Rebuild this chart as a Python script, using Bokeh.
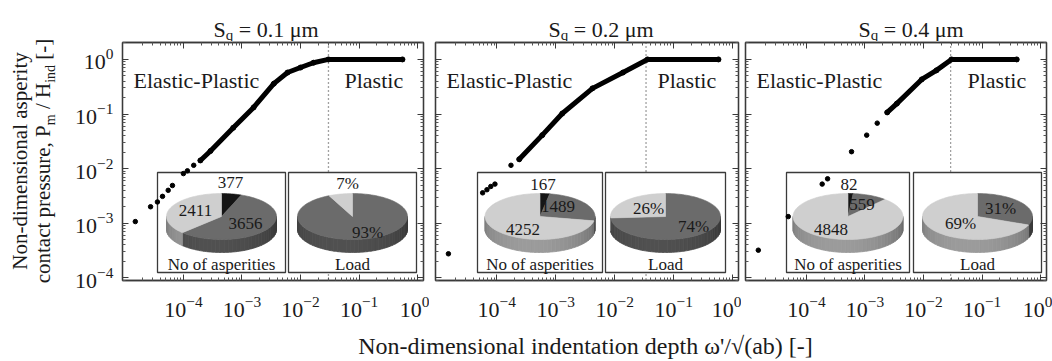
import numpy as np
from bokeh.plotting import figure
from bokeh.layouts import row, column
from bokeh.models import (Range1d, LinearScale, LogAxis, FixedTicker, Span, Label, Div,
                          CustomJSTickFormatter)
from bokeh.core.properties import value
from bokeh.embed import file_html
from bokeh.resources import INLINE

FONT = "Liberation Serif"
INK = "#1a1a1a"
FRAME = "#3a3a3a"

# ---------------- data ----------------
sq_values = ["0.1", "0.2", "0.4"]  # S_q in µm, one per panel

# isolated asperities: x = ω'/√(ab), y = Pm/Hind
sparse_x_01 = [1.51e-5, 2.75e-5, 3.6e-5, 4.4e-5, 5.5e-5, 6.5e-5, 1.0e-4, 1.17e-4, 1.5e-4]
sparse_y_01 = [1.07e-3, 2.0e-3, 2.45e-3, 3.1e-3, 4.0e-3, 4.9e-3, 8.1e-3, 9.1e-3, 1.15e-2]
dense_x_01 = [1.95e-4, 2.9e-4, 7.1e-4, 1.58e-3, 3.5e-3, 6.0e-3, 1.0e-2, 1.66e-2, 3.0e-2, 0.55]
dense_y_01 = [1.41e-2, 2.1e-2, 5.6e-2, 0.132, 0.36, 0.575, 0.71, 0.87, 1.0, 1.0]

sparse_x_02 = [1.51e-5, 5.75e-5, 6.8e-5, 7.9e-5, 9.3e-5, 1.74e-4]
sparse_y_02 = [2.75e-4, 3.6e-3, 4.1e-3, 4.7e-3, 5.2e-3, 1.15e-2]
dense_x_02 = [2.4e-4, 5.9e-4, 1.29e-3, 4.2e-3, 1.38e-2, 3.6e-2, 0.575]
dense_y_02 = [1.48e-2, 4.1e-2, 0.102, 0.295, 0.575, 1.0, 1.0]

sparse_x_04 = [1.51e-5, 4.9e-5, 1.86e-4, 2.3e-4, 5.9e-4, 1.07e-3, 1.62e-3]
sparse_y_04 = [3.2e-4, 1.32e-3, 5.2e-3, 6.5e-3, 2.04e-2, 4.1e-2, 6.8e-2]
dense_x_04 = [2.4e-3, 3.5e-3, 9.3e-3, 1.66e-2, 3.0e-2, 0.39]
dense_y_04 = [0.107, 0.155, 0.43, 0.63, 1.0, 1.0]

plastic_onset = [0.030, 0.034, 0.029]   # dotted boundary, ω'/√(ab)

# number of asperities per regime
asp_elastic = [377, 167, 82]
asp_elastic_plastic = [3656, 1489, 559]
asp_plastic = [2411, 4252, 4848]
# share of load (%)
load_elastic_plastic = [93, 74, 31]
load_plastic = [7, 26, 69]

x_ticks = [1e-4, 1e-3, 1e-2, 1e-1, 1e0]
y_ticks = [1e-4, 1e-3, 1e-2, 1e-1, 1e0]

sparse_x = [sparse_x_01, sparse_x_02, sparse_x_04]
sparse_y = [sparse_y_01, sparse_y_02, sparse_y_04]
dense_x = [dense_x_01, dense_x_02, dense_x_04]
dense_y = [dense_y_01, dense_y_02, dense_y_04]

# ---------------- layout ----------------
TOTAL_W, TOTAL_H = 1052, 361
YLAB_W = 62
MAIN_W = TOTAL_W - YLAB_W
TITLE_H = 41
FW = [301, 303, 301]
LEFT = [60, 6, 4]
RIGHT = [6, 3, 6]
TOP, FH, BOTTOM = 1, 238, 45
ROW_H = TOP + FH + BOTTOM
XLAB_H = TOTAL_H - TITLE_H - ROW_H
XR = (10 ** -5.04, 10 ** 0.10)
YR = (10 ** -4.05, 10 ** 0.31)
minor = [m * 10.0 ** k for k in range(-6, 1) for m in range(2, 10)]

C_BLACK, C_DARK, C_LIGHT = "#151515", "#6b6b6b", "#cfcfcf"

box1_x = [(35, 163), (42, 167), (41, 164)]
box2_x = [(166, 294), (170, 290), (168, 296)]
box_y = (8, 108)
title_start = [213, 548, 858]   # page x of the "S"

asp_lbl_off = [[(9, 34), (24, -7), (-26, 6)],
               [(3, 32), (18, 10), (-17, -13)],
               [(1, 32), (14, 12), (-17, -13)]]
load_lbl_off = [[(15, -16), (-5, 33)],
                [(28, -10), (-17, 8)],
                [(23, 8), (-17, -7)]]

W_TIMES = {' ': 250, ',': 250, '-': 333, '.': 250, '/': 278, '=': 564, '[': 333, ']': 333,
           "'": 333, '(': 333, ')': 333, 'μ': 500, '%': 833,
           'H': 722, 'N': 722, 'P': 556, 'S': 556,
           'a': 444, 'b': 500, 'c': 444, 'd': 500, 'e': 444, 'f': 333, 'h': 500, 'i': 278,
           'l': 278, 'm': 778, 'n': 500, 'o': 500, 'p': 500, 'q': 500, 'r': 333, 's': 389,
           't': 278, 'u': 500, 'y': 500}


def tw(s, size):
    return sum(W_TIMES.get(c, 500) for c in s) * size / 1000.0


def rich(p, pieces, x0, y0):
    """Draw text pieces (text, px size, baseline shift) one after another."""
    cum = 0.0
    for t, s, shift in pieces:
        lead = len(t) - len(t.lstrip(" "))
        cum += tw(" " * lead, s)
        t = t.strip(" ")
        p.add_layout(Label(x=x0 + cum, y=y0 + shift, text=t, text_align="left",
                           text_baseline="alphabetic", text_font=FONT,
                           text_font_size=f"{s}px", text_color=INK))
        cum += tw(t, s)


def strip(w, h):
    f = figure(width=w, height=h, x_range=Range1d(0, w), y_range=Range1d(0, h), title=None,
               toolbar_location=None, output_backend="svg", min_border=0,
               x_axis_location=None, y_axis_location=None)
    f.grid.visible = False
    f.outline_line_color = None
    return f


def hexshade(c, f):
    r, g, b = int(c[1:3], 16), int(c[3:5], 16), int(c[5:7], 16)
    return "#%02x%02x%02x" % tuple(max(0, min(255, int(v * f))) for v in (r, g, b))


def pie(p, cx, cy, vals, colors, a=55, b=23, h=13):
    tot = float(sum(vals))
    ang = np.concatenate([[0.0], np.cumsum(vals) / tot * 2 * np.pi])
    xs_s, ys_s, cs_s, xs_t, ys_t, cs_t = [], [], [], [], [], []
    for k in range(len(vals)):
        t0, t1 = ang[k], ang[k + 1]
        n = max(3, int((t1 - t0) / (2 * np.pi) * 160) + 2)
        t = np.linspace(t0, t1, n)
        xs_t.append([cx] + list(cx + a * np.sin(t)))
        ys_t.append([cy] + list(cy + b * np.cos(t)))
        cs_t.append(colors[k])
        lo, hi = max(t0, np.pi / 2), min(t1, 1.5 * np.pi)
        if hi > lo:
            m = max(2, int((hi - lo) / np.pi * 40) + 1)
            edges = np.linspace(lo, hi, m + 1)
            for j in range(m):
                u = np.linspace(edges[j], edges[j + 1], 4)
                xt, yt = cx + a * np.sin(u), cy + b * np.cos(u)
                xs_s.append(list(xt) + list(xt[::-1]))
                ys_s.append(list(yt) + list((yt - h)[::-1]))
                mid = 0.5 * (edges[j] + edges[j + 1])
                f = 0.55 + 0.2 * np.sin(mid - np.pi / 2) + 0.06 * (mid - np.pi) / (np.pi / 2)
                cs_s.append(hexshade(colors[k], f))
    p.patches(xs_s, ys_s, fill_color=cs_s, line_color=cs_s, line_width=0.8,
              x_range_name="pie", y_range_name="pie")
    p.patches(xs_t, ys_t, fill_color=cs_t, line_color=cs_t, line_width=0.6,
              x_range_name="pie", y_range_name="pie")


def style_axis(ax, labels):
    ax.axis_line_color = FRAME
    ax.axis_line_width = 1.3
    ax.major_tick_in, ax.major_tick_out = 6, 0
    ax.minor_tick_in, ax.minor_tick_out = 3, 0
    ax.major_tick_line_color = FRAME
    ax.minor_tick_line_color = "#555555"
    ax.major_label_text_font = FONT
    ax.major_label_text_font_size = "22px"
    ax.major_label_text_color = INK
    if not labels:
        ax.formatter = CustomJSTickFormatter(code="return ''")
        ax.major_label_standoff = 0


def make_panel(i):
    fw = FW[i]
    p = figure(width=LEFT[i] + fw + RIGHT[i], height=ROW_H, x_axis_type="log", y_axis_type="log",
               x_range=Range1d(*XR), y_range=Range1d(*YR), toolbar_location=None, title=None,
               output_backend="svg", min_border_left=LEFT[i], min_border_right=RIGHT[i],
               min_border_top=TOP, min_border_bottom=BOTTOM)
    p.extra_x_ranges = {"pie": Range1d(0, fw)}
    p.extra_y_ranges = {"pie": Range1d(0, FH)}
    p.extra_x_scales = {"pie": LinearScale()}
    p.extra_y_scales = {"pie": LinearScale()}
    p.grid.visible = False
    p.outline_line_color = FRAME
    p.outline_line_width = 1.3
    p.add_layout(LogAxis(), "right")
    p.add_layout(LogAxis(), "above")
    for ax in p.xaxis:
        ax.ticker = FixedTicker(ticks=x_ticks, minor_ticks=minor)
    for ax in p.yaxis:
        ax.ticker = FixedTicker(ticks=y_ticks, minor_ticks=minor)
    style_axis(p.below[0], True)
    style_axis(p.above[0], False)
    style_axis(p.right[0], False)
    style_axis(p.left[0], i == 0)
    p.below[0].major_label_standoff = 16
    p.left[0].major_label_standoff = 9

    p.add_layout(Span(location=plastic_onset[i], dimension="height", line_color="#444444",
                      line_dash="1 3", line_width=1.3, level="underlay"))

    # inset boxes
    b1, b2 = box1_x[i], box2_x[i]
    p.quad(left=[b1[0], b2[0]], right=[b1[1], b2[1]], bottom=[box_y[0]] * 2, top=[box_y[1]] * 2,
           fill_color="white", line_color=FRAME, line_width=1.3,
           x_range_name="pie", y_range_name="pie")
    cy = box_y[0] + 56
    c1, c2 = 0.5 * (b1[0] + b1[1]), 0.5 * (b2[0] + b2[1])
    asp = [asp_elastic[i], asp_elastic_plastic[i], asp_plastic[i]]
    pie(p, c1, cy, asp, [C_BLACK, C_DARK, C_LIGHT])
    ld = [load_elastic_plastic[i], load_plastic[i]]
    pie(p, c2, cy, ld, [C_DARK, C_LIGHT])
    tx = [c1 + o[0] for o in asp_lbl_off[i]] + [c2 + o[0] for o in load_lbl_off[i]] + [c1, c2]
    ty = [cy + o[1] for o in asp_lbl_off[i]] + [cy + o[1] for o in load_lbl_off[i]] + [box_y[0] + 8] * 2
    tt = [str(v) for v in asp] + [f"{v}%" for v in ld] + ["No of asperities", "Load"]
    p.text(x=tx, y=ty, text=tt, text_font=value(FONT), text_font_size="17px",
           text_align="center", text_baseline="middle", text_color=INK,
           x_range_name="pie", y_range_name="pie")

    # regime labels
    p.text(x=[11, 222], y=[200, 200], text=["Elastic-Plastic", "Plastic"], text_font=value(FONT),
           text_font_size="22px", text_align="left", text_baseline="middle", text_color=INK,
           x_range_name="pie", y_range_name="pie")

    # data
    p.line(dense_x[i], dense_y[i], line_width=5, color="black", line_cap="round", line_join="round")
    p.scatter(dense_x[i], dense_y[i], size=5, color="black")
    p.scatter(sparse_x[i], sparse_y[i], size=4.5, color="black")
    return p


panels = [make_panel(i) for i in range(3)]

# titles strip (S_q = ... µm)
pt = strip(MAIN_W, TITLE_H)
for i in range(3):
    rich(pt, [("S", 22, 0), ("q", 15, -5), (f" = {sq_values[i]} μm", 22, 0)],
         title_start[i] - YLAB_W, TITLE_H - 29)

# x-axis label strip
pl = strip(MAIN_W, XLAB_H)
pl.add_layout(Label(x=585 - YLAB_W, y=XLAB_H - 20,
                    text="Non-dimensional indentation depth ω'/√(ab) [-]",
                    text_align="center", text_baseline="middle", text_font=FONT,
                    text_font_size="24px", text_color=INK))

# y-axis label (two lines, rotated, with subscripts)
frame_mid = TITLE_H + TOP + FH / 2
box_len = 2 * (TOTAL_H - frame_mid)
sub = "font-size:14px;position:relative;top:5px;"
ylab_html = (
    f"<div style=\"width:{box_len:.0f}px;height:{YLAB_W}px;box-sizing:border-box;padding-top:9px;"
    f"transform-origin:0 0;transform:translate(0px,{TOTAL_H}px) rotate(-90deg);"
    f"font-family:'{FONT}';font-size:21px;line-height:23px;color:{INK};text-align:center;"
    f"white-space:nowrap;margin:0;\">"
    f"Non-dimensional asperity<br>"
    f"contact pressure, P<span style=\"{sub}\">m</span> / H<span style=\"{sub}\">ind</span> [-]"
    f"</div>")
yl = Div(text=ylab_html, width=YLAB_W, height=TOTAL_H, margin=0)

layout = row(yl, column(pt, row(*panels), pl))
open("out.html", "w").write(file_html(layout, INLINE))
